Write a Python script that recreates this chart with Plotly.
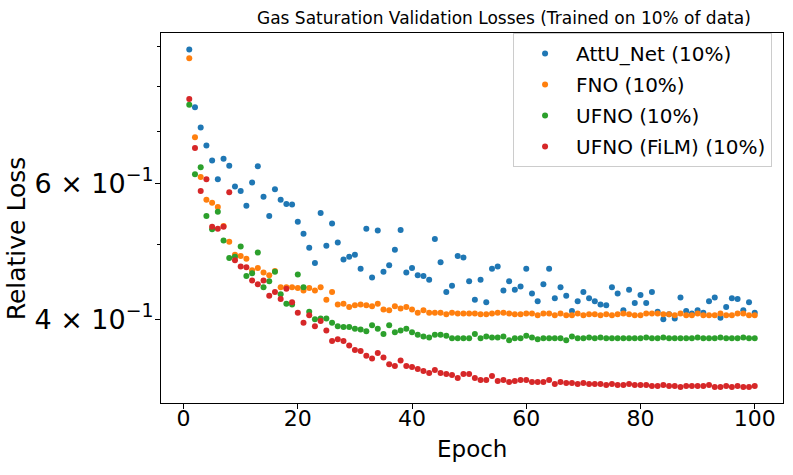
import plotly.graph_objects as go

epochs = list(range(1, 101))

attu_net = [0.893, 0.752, 0.708, 0.671, 0.642, 0.607, 0.645, 0.632, 0.594, 0.586,
            0.561, 0.601, 0.631, 0.576, 0.544, 0.589, 0.571, 0.564, 0.563, 0.535,
            0.516, 0.495, 0.473, 0.549, 0.498, 0.532, 0.503, 0.478, 0.482, 0.485,
            0.465, 0.524, 0.453, 0.521, 0.461, 0.470, 0.492, 0.522, 0.460, 0.466,
            0.456, 0.455, 0.450, 0.508, 0.474, 0.434, 0.442, 0.483, 0.481, 0.448,
            0.424, 0.450, 0.421, 0.465, 0.468, 0.436, 0.448, 0.437, 0.441, 0.465,
            0.432, 0.422, 0.444, 0.465, 0.426, 0.440, 0.429, 0.410, 0.422, 0.434,
            0.426, 0.422, 0.418, 0.417, 0.440, 0.432, 0.411, 0.437, 0.420, 0.430,
            0.420, 0.434, 0.409, 0.400, 0.406, 0.401, 0.427, 0.410, 0.407, 0.411,
            0.408, 0.422, 0.427, 0.402, 0.415, 0.426, 0.425, 0.411, 0.421, 0.408]

fno = [0.870, 0.688, 0.611, 0.571, 0.566, 0.559, 0.528, 0.504, 0.485, 0.483,
       0.479, 0.463, 0.466, 0.460, 0.456, 0.462, 0.440, 0.440, 0.440, 0.439,
       0.436, 0.439, 0.436, 0.440, 0.424, 0.434, 0.418, 0.419, 0.415, 0.417,
       0.418, 0.417, 0.416, 0.419, 0.412, 0.411, 0.416, 0.413, 0.415, 0.412,
       0.408, 0.411, 0.408, 0.408, 0.408, 0.406, 0.408, 0.407, 0.407, 0.407,
       0.407, 0.406, 0.406, 0.407, 0.408, 0.408, 0.407, 0.406, 0.406, 0.407,
       0.407, 0.405, 0.407, 0.407, 0.405, 0.407, 0.405, 0.405, 0.407, 0.405,
       0.406, 0.406, 0.405, 0.406, 0.405, 0.406, 0.407, 0.406, 0.405, 0.405,
       0.407, 0.407, 0.407, 0.406, 0.406, 0.405, 0.407, 0.405, 0.405, 0.407,
       0.405, 0.405, 0.405, 0.407, 0.405, 0.405, 0.407, 0.407, 0.405, 0.405]

ufno = [0.758, 0.616, 0.629, 0.544, 0.523, 0.551, 0.506, 0.480, 0.482, 0.497,
        0.455, 0.459, 0.488, 0.440, 0.448, 0.461, 0.431, 0.419, 0.418, 0.457,
        0.440, 0.409, 0.400, 0.401, 0.401, 0.396, 0.392, 0.391, 0.391, 0.389,
        0.388, 0.386, 0.393, 0.389, 0.383, 0.393, 0.385, 0.387, 0.389, 0.385,
        0.382, 0.380, 0.379, 0.382, 0.382, 0.381, 0.378, 0.378, 0.378, 0.378,
        0.383, 0.378, 0.380, 0.379, 0.379, 0.380, 0.376, 0.378, 0.378, 0.381,
        0.379, 0.377, 0.378, 0.378, 0.378, 0.378, 0.376, 0.380, 0.378, 0.378,
        0.379, 0.378, 0.379, 0.378, 0.378, 0.378, 0.378, 0.378, 0.378, 0.378,
        0.379, 0.378, 0.378, 0.379, 0.378, 0.378, 0.378, 0.378, 0.378, 0.379,
        0.378, 0.378, 0.378, 0.379, 0.378, 0.378, 0.378, 0.379, 0.378, 0.378]

ufno_film = [0.771, 0.666, 0.586, 0.607, 0.527, 0.524, 0.527, 0.584, 0.477, 0.468,
             0.467, 0.449, 0.444, 0.449, 0.429, 0.434, 0.425, 0.438, 0.421, 0.408,
             0.396, 0.405, 0.392, 0.398, 0.387, 0.375, 0.377, 0.375, 0.370, 0.365,
             0.364, 0.359, 0.356, 0.362, 0.357, 0.350, 0.348, 0.354, 0.348, 0.347,
             0.345, 0.343, 0.341, 0.344, 0.341, 0.340, 0.339, 0.336, 0.340, 0.340,
             0.336, 0.334, 0.334, 0.338, 0.333, 0.334, 0.332, 0.333, 0.334, 0.334,
             0.332, 0.332, 0.332, 0.334, 0.330, 0.332, 0.331, 0.331, 0.330, 0.331,
             0.330, 0.330, 0.330, 0.329, 0.330, 0.329, 0.329, 0.330, 0.329, 0.329,
             0.329, 0.328, 0.328, 0.329, 0.328, 0.328, 0.327, 0.328, 0.328, 0.328,
             0.328, 0.329, 0.327, 0.327, 0.328, 0.327, 0.328, 0.327, 0.327, 0.328]

series_names = ["AttU_Net (10%)", "FNO (10%)", "UFNO (10%)", "UFNO (FiLM) (10%)"]
series_values = [attu_net, fno, ufno, ufno_film]
colors = ["#1f77b4", "#ff7f0e", "#2ca02c", "#d62728"]

x_tickvals = [0, 20, 40, 60, 80, 100]
y_tickvals = [0.4, 0.6]
y_ticktext = ["4 × 10<sup>−1</sup>", "6 × 10<sup>−1</sup>"]
y_minor_vals = [0.5, 0.7, 0.8, 0.9]

FONT = "DejaVu Sans"

fig = go.Figure()
for name, vals, col in zip(series_names, series_values, colors):
    fig.add_trace(go.Scatter(
        x=epochs, y=vals, mode="markers", name=name, legendgroup=name,
        marker=dict(color=col, size=6, line=dict(width=0)),
    ))

fig.update_layout(
    width=793, height=475,
    margin=dict(l=161, r=10, t=33, b=72),
    paper_bgcolor="white", plot_bgcolor="white",
    font=dict(family=FONT, color="black"),
    showlegend=True,
    legend=dict(
        x=0.566, y=1.0, xanchor="left", yanchor="top",
        font=dict(family=FONT, size=20, color="black"),
        bgcolor="rgba(255,255,255,0.8)", bordercolor="#cccccc", borderwidth=1,
        traceorder="grouped", tracegroupgap=2, itemwidth=52,
        entrywidth=200, entrywidthmode="pixels",
    ),
    xaxis=dict(
        range=[-3.95, 104.95], tickmode="array", tickvals=x_tickvals,
        ticks="outside", ticklen=5, tickwidth=1, tickcolor="black",
        ticklabelstandoff=-9,
        showline=True, linecolor="black", linewidth=1, mirror=True,
        showgrid=False, zeroline=False,
        tickfont=dict(family=FONT, size=22, color="black"),
    ),
    yaxis=dict(
        type="log", range=[-0.5061, -0.0277], tickmode="array",
        tickvals=y_tickvals, ticktext=y_ticktext,
        ticks="outside", ticklen=5, tickwidth=1, tickcolor="black",
        ticklabelstandoff=-4,
        minor=dict(tickmode="array", tickvals=y_minor_vals, ticks="outside",
                   ticklen=3, tickwidth=1, tickcolor="black", showgrid=False),
        showline=True, linecolor="black", linewidth=1, mirror=True,
        showgrid=False, zeroline=False,
        tickfont=dict(family=FONT, size=27, color="black"),
    ),
    annotations=[
        dict(text="Gas Saturation Validation Losses (Trained on 10% of data)",
             xref="paper", yref="paper", x=0.551, y=1.0405,
             xanchor="center", yanchor="middle", showarrow=False,
             font=dict(family=FONT, size=17, color="black")),
        dict(text="Epoch", xref="paper", yref="paper", x=0.5, y=0,
             yshift=-31, xanchor="center", yanchor="top", showarrow=False,
             font=dict(family=FONT, size=23, color="black")),
        dict(text="Relative Loss", xref="paper", yref="paper", x=0, xshift=-145,
             y=0.445, xanchor="center", yanchor="middle", textangle=-90,
             showarrow=False, font=dict(family=FONT, size=25, color="black")),
    ],
)

fig.write_html("out.html", config={"displayModeBar": False},
               post_script="document.body.style.margin='0px';")
